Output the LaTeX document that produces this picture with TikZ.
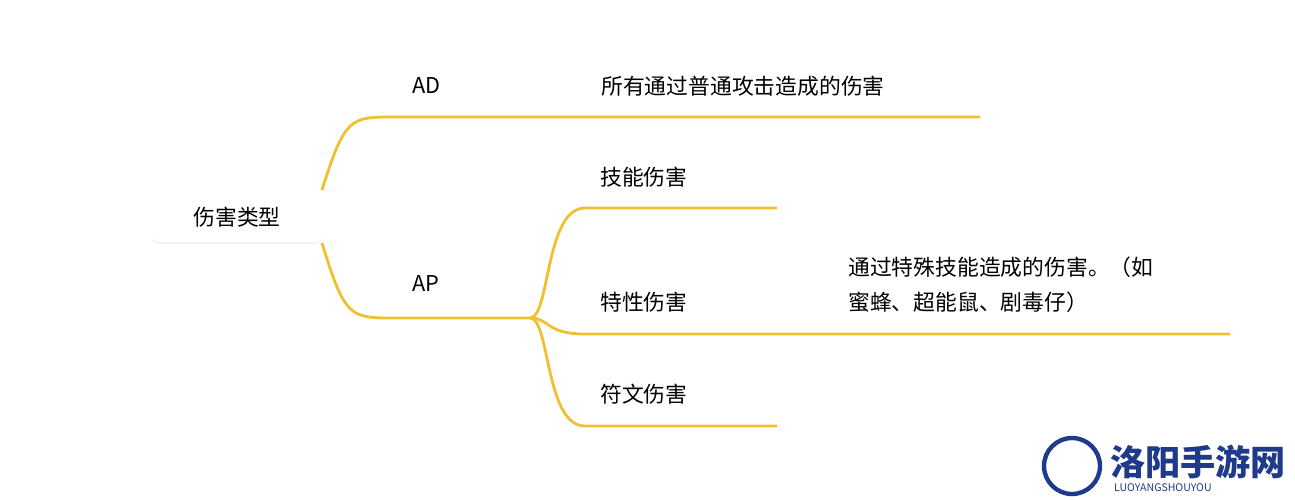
\documentclass[tikz,border=0pt]{standalone}
\usepackage{fontspec}
\setmainfont{Noto Sans CJK SC}
\usetikzlibrary{positioning,shadows}
\definecolor{branch}{HTML}{F0C030}
\definecolor{logoblue}{HTML}{1F3A8A}
\begin{document}
\begin{tikzpicture}[x=0.02cm,y=-0.02cm,
  edge/.style={draw=branch,line width=1.6pt},
  lbl/.style={font=\fontsize{12.4}{16}\selectfont,anchor=west,inner sep=0pt}]
  \useasboundingbox (0,0) rectangle (1295,500);
  % root
  \node[fill=white,rounded corners=4pt,minimum width=3.4cm,minimum height=1cm,
        drop shadow={opacity=0.1,shadow xshift=0pt,shadow yshift=-1pt},
        font=\fontsize{12.4}{14}\selectfont] (root) at (237,217) {伤害类型};
  % branch ends
  \coordinate (ad0) at (322,190);
  \coordinate (ad1) at (395,117);
  \coordinate (ad2) at (980,117);
  \coordinate (ap0) at (322,243);
  \coordinate (ap1) at (395,318);
  \coordinate (ap2) at (530,318);
  \coordinate (sk1) at (585,208);
  \coordinate (sk2) at (777,208);
  \coordinate (tr1) at (585,334);
  \coordinate (tr2) at (1230,334);
  \coordinate (rn1) at (585,426);
  \coordinate (rn2) at (777,426);
  % connectors
  \draw[edge] (ad0) .. controls (345,117) and (350,117) .. (ad1) -- (ad2);
  \draw[edge] (ap0) .. controls (345,318) and (350,318) .. (ap1) -- (ap2);
  \draw[edge] (ap2) .. controls (550,318) and (545,208) .. (sk1) -- (sk2);
  \draw[edge] (ap2) .. controls (550,318) and (545,334) .. (tr1) -- (tr2);
  \draw[edge] (ap2) .. controls (550,318) and (545,426) .. (rn1) -- (rn2);
  % labels
  \node[lbl] (ad) at (412,86) {AD};
  \node[lbl] (adtxt) at (601,86) {所有通过普通攻击造成的伤害};
  \node[lbl] (ap) at (412,284) {AP};
  \node[lbl] (sk) at (600,177) {技能伤害};
  \node[lbl] (tr) at (600,302) {特性伤害};
  \node[lbl] (rn) at (600,394) {符文伤害};
  \node[lbl,align=left,anchor=north west] (trtxt) at (848,256)
    {通过特殊技能造成的伤害。（如\\[4pt]蜜蜂、超能鼠、剧毒仔）};
  % watermark
  \draw[logoblue,line width=2.5pt] (1072,466) circle (28);
  \node[font=\bfseries\fontsize{20}{22}\selectfont,text=logoblue,anchor=west] (wm) at (1104,462) {洛阳手游网};
  \node[font=\fontsize{6}{7}\selectfont,text=logoblue,anchor=west] (wm2) at (1108,488) {LUOYANGSHOUYOU};
\end{tikzpicture}
\end{document}
